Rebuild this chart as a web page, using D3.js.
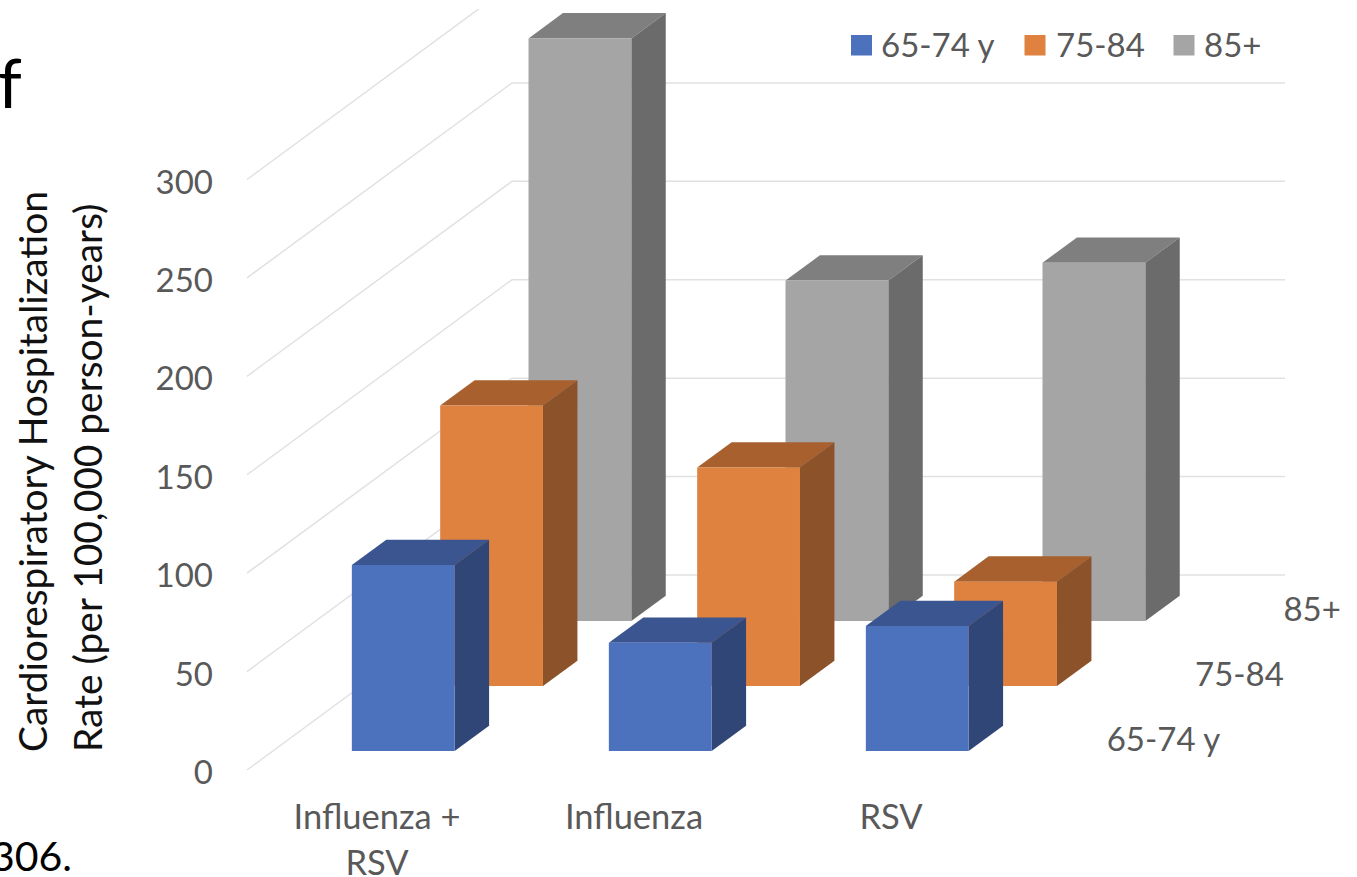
<!DOCTYPE html>
<html><head><meta charset="utf-8">
<script src="https://d3js.org/d3.v7.min.js"></script>
<style>html,body{margin:0;padding:0;background:#fff;overflow:hidden}svg{display:block}text{font-family:Lato,"Open Sans",sans-serif}</style>
</head><body><svg id="c" width="1357" height="877"></svg>
<script>
const categories = ["Influenza + RSV", "Influenza", "RSV"];
const categoryLines = [["Influenza +", "RSV"], ["Influenza"], ["RSV"]];
const seriesNames = ["65-74 y", "75-84", "85+"];
const values65 = [94.5, 55, 63.5];
const values75 = [142.5, 111, 53];
const values85 = [296, 173, 182];
const yTicks = [0, 50, 100, 150, 200, 250, 300];
const titleLines = ["Cardiorespiratory Hospitalization", "Rate (per 100,000 person-years)"];
const fills = {"65-74 y": ["#4c71bd", "#3a5590", "#2f4677"], "75-84": ["#e0823f", "#a8602f", "#8c5229"], "85+": ["#a5a5a5", "#7f7f7f", "#6b6b6b"]};
const seriesValues = {"65-74 y": values65, "75-84": values75, "85+": values85};

const svg = d3.select("#c");
const originX = 247, originY = 770, slope = 0.736;
const y = d3.scaleLinear().domain([0, 300]).range([0, 590.5]);
const x = d3.scaleBand().domain(categories).range([2, 773]).paddingInner(0.6).paddingOuter(0.3);
const z = d3.scaleBand().domain(seriesNames).range([-1.2, 263.8]).paddingInner(0.61).paddingOuter(0.305);
const P = (fx, v, d) => [originX + fx + d, originY - y(v) - d * slope];
const poly = pts => "M" + pts.map(p => p.join(",")).join("L") + "Z";
const depth = 265, wall = 773;

// clip keeps the top of the wall from running past the picture's upper edge
svg.append("clipPath").attr("id", "top").append("rect").attr("x", 0).attr("y", 9).attr("width", 1357).attr("height", 868);
const grid = svg.append("g").attr("clip-path", "url(#top)").attr("stroke", "#e1e1e1").attr("stroke-width", 1.5).attr("fill", "none");
yTicks.forEach(t => {
  const a = P(0, t, 0), b = P(0, t, depth), c = P(wall, t, depth);
  grid.append("path").attr("d", "M" + [a, b, c].map(p => p.join(",")).join("L"));
});

// bars, back row first so nearer rows overlap
[...seriesNames].reverse().forEach(s => {
  const [front, top, side] = fills[s];
  categories.forEach((c, i) => {
    const v = seriesValues[s][i], x0 = x(c), x1 = x0 + x.bandwidth(), d0 = z(s), d1 = d0 + z.bandwidth();
    const g = svg.append("g");
    g.append("path").attr("fill", top).attr("d", poly([P(x0, v, d0), P(x1, v, d0), P(x1, v, d1), P(x0, v, d1)]));
    g.append("path").attr("fill", side).attr("d", poly([P(x1, 0, d0), P(x1, v, d0), P(x1, v, d1), P(x1, 0, d1)]));
    g.append("path").attr("fill", front).attr("d", poly([P(x0, 0, d0), P(x1, 0, d0), P(x1, v, d0), P(x0, v, d0)]));
  });
});

const gray = "#595959";
// value axis labels
yTicks.forEach(t => svg.append("text").attr("x", 213).attr("y", P(0, t, 0)[1] + 14)
  .attr("text-anchor", "end").attr("font-size", 33).attr("fill", gray).text(t));

// category labels
categories.forEach((c, i) => {
  const cx = originX + x(c) + x.bandwidth() / 2 - 0.5;
  categoryLines[i].forEach((l, k) => svg.append("text").attr("x", cx).attr("y", 829 + k * 46)
    .attr("text-anchor", "middle").attr("font-size", 34.5).attr("fill", gray).text(l));
});

// depth labels
seriesNames.forEach(s => svg.append("text").attr("x", originX + 834 + z(s)).attr("y", originY - z(s) * slope)
  .attr("font-size", 33).attr("fill", gray).text(s));

// legend
const legendSwatch = [851, 1024.5, 1173.5], legendText = [881, 1056, 1204];
seriesNames.forEach((s, i) => {
  svg.append("rect").attr("x", legendSwatch[i]).attr("y", 35).attr("width", 21).attr("height", 20.5).attr("fill", fills[s][0]);
  svg.append("text").attr("x", legendText[i]).attr("y", 57).attr("font-size", 33).attr("fill", gray).text(s);
});

// axis title
titleLines.forEach((l, i) => svg.append("text")
  .attr("transform", `translate(${[47, 102][i]},752) rotate(-90)`)
  .attr("font-size", 38.9).attr("fill", "#111").text(l));

// fragments of the surrounding page
svg.append("text").attr("x", -2).attr("y", 108).attr("font-size", 68).attr("fill", "#000").text("f");
svg.append("text").attr("x", -9).attr("y", 871).attr("font-size", 41).attr("fill", "#000").text("306.");
</script></body></html>
